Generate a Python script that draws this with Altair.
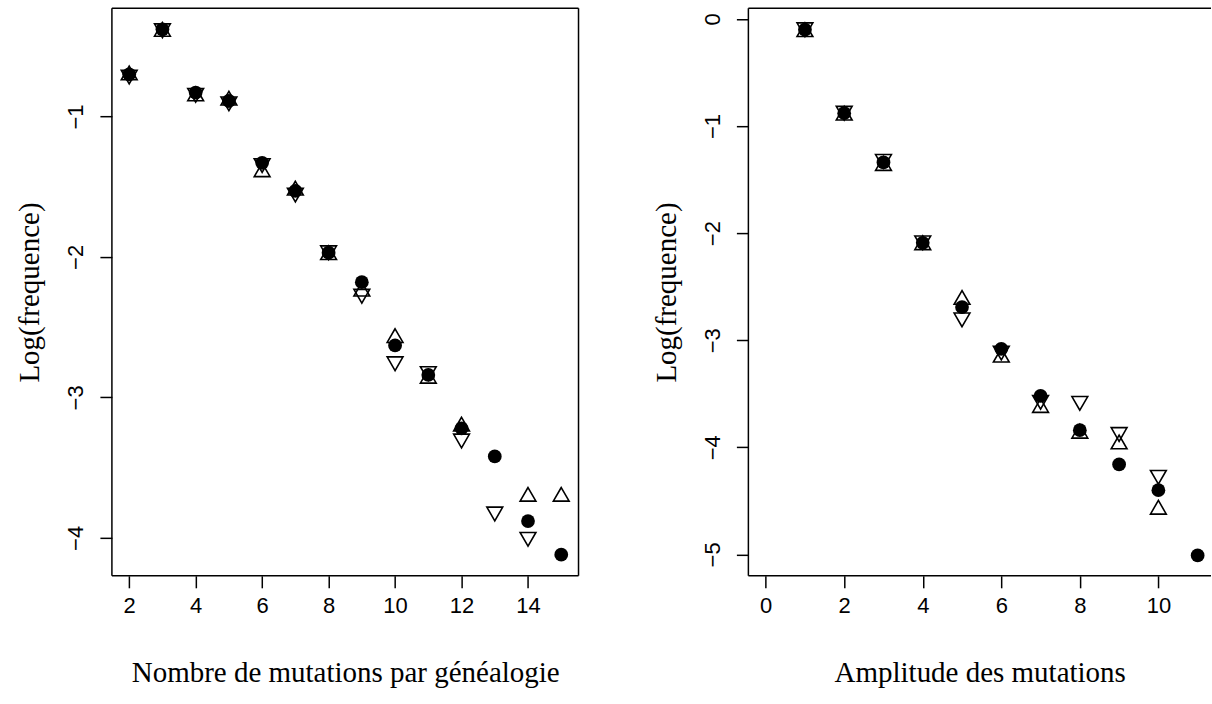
import altair as alt
import pandas as pd

# ---------------- data ----------------
# Left panel: number of mutations per genealogy
left_x = [2, 3, 4, 5, 6, 7, 8, 9, 10, 11, 12, 13, 14, 15]
left_circle = [-0.70, -0.38, -0.83, -0.89, -1.33, -1.53, -1.97, -2.18, -2.63, -2.84, -3.22, -3.42, -3.88, -4.12]
left_up = [-0.69, -0.38, -0.84, -0.87, -1.38, -1.51, -1.97, -2.23, -2.56, -2.85, -3.19, None, -3.69, -3.69]
left_down = [-0.72, -0.39, -0.85, -0.91, -1.35, -1.56, -1.97, -2.28, -2.76, -2.83, -3.31, -3.83, -4.01, None]
left_xticks = [2, 4, 6, 8, 10, 12, 14]
left_yticks = [-1, -2, -3, -4]

# Right panel: amplitude of mutations
right_x = [1, 2, 3, 4, 5, 6, 7, 8, 9, 10, 11]
right_circle = [-0.10, -0.88, -1.34, -2.09, -2.69, -3.08, -3.52, -3.84, -4.16, -4.40, -5.01]
right_up = [-0.10, -0.88, -1.35, -2.09, -2.60, -3.14, -3.61, -3.85, -3.95, -4.56, None]
right_down = [-0.10, -0.88, -1.33, -2.09, -2.81, -3.12, -3.58, -3.59, -3.88, -4.28, None]
right_xticks = [0, 2, 4, 6, 8, 10]
right_yticks = [0, -1, -2, -3, -4, -5]

X_TITLE_LEFT = "Nombre de mutations par généalogie"
X_TITLE_RIGHT = "Amplitude des mutations"
Y_TITLE = "Log(frequence)"

W_LEFT, W_RIGHT, H = 467, 463, 568
TICK_FONT = "Liberation Sans"
TITLE_FONT = "Liberation Serif"


def frame(xs, ys):
    d = pd.DataFrame({"x": xs, "y": ys})
    return d.dropna()


def panel(xs, circ, up, down, xdom, ydom, xticks, yticks, xtitle, width, left_side_only):
    xscale = alt.Scale(domain=xdom, nice=False, zero=False)
    yscale = alt.Scale(domain=ydom, nice=False, zero=False)
    xaxis = alt.Axis(values=xticks, title=xtitle, titleY=97, titleX=width / 2,
                     titleBaseline="middle", titleAlign="center", labelPadding=8)
    yaxis = alt.Axis(values=yticks, title=Y_TITLE, titleX=-82, titleY=H / 2,
                     titleAngle=270, titleBaseline="middle", titleAlign="center",
                     labelAngle=270, labelAlign="center", labelBaseline="middle",
                     labelPadding=24)
    base_enc = dict(
        x=alt.X("x:Q", scale=xscale, axis=xaxis),
        y=alt.Y("y:Q", scale=yscale, axis=yaxis),
    )
    circles = alt.Chart(frame(xs, circ)).mark_point(
        shape="circle", filled=True, size=190, color="black", opacity=1
    ).encode(**base_enc)
    ups = alt.Chart(frame(xs, up)).mark_point(
        shape="triangle-up", filled=False, size=250, color="black", strokeWidth=1.6, opacity=1
    ).encode(**base_enc)
    downs = alt.Chart(frame(xs, down)).mark_point(
        shape="triangle-down", filled=False, size=250, color="black", strokeWidth=1.6, opacity=1
    ).encode(**base_enc)

    one = pd.DataFrame({"k": [0]})
    rule = dict(color="black", strokeWidth=1.5)
    top = alt.Chart(one).mark_rule(**rule).encode(
        x=alt.value(0), x2=alt.value(width), y=alt.value(0))
    bottom = alt.Chart(one).mark_rule(**rule).encode(
        x=alt.value(0), x2=alt.value(width), y=alt.value(H))
    left = alt.Chart(one).mark_rule(**rule).encode(
        x=alt.value(0), y=alt.value(0), y2=alt.value(H))
    layers = [circles, ups, downs, top, bottom, left]
    if not left_side_only:
        right = alt.Chart(one).mark_rule(**rule).encode(
            x=alt.value(width), y=alt.value(0), y2=alt.value(H))
        layers.append(right)
    return alt.layer(*layers).properties(width=width, height=H)


left_chart = panel(left_x, left_circle, left_up, left_down,
                   [1.48, 15.52], [-4.27, -0.23], left_xticks, left_yticks,
                   X_TITLE_LEFT, W_LEFT, False)
right_chart = panel(right_x, right_circle, right_up, right_down,
                    [-0.44, 11.34], [-5.20, 0.10], right_xticks, right_yticks,
                    X_TITLE_RIGHT, W_RIGHT, True)

chart = alt.hconcat(left_chart, right_chart, spacing=73).properties(
    padding={"left": 16, "top": 7, "right": 0, "bottom": 0},
    background="white",
).configure_view(stroke=None).configure_axis(
    grid=False,
    domain=False,
    ticks=True,
    tickColor="black",
    tickWidth=1.5,
    tickSize=12,
    labelFont=TICK_FONT,
    labelFontSize=22,
    labelColor="black",
    titleFont=TITLE_FONT,
    titleFontSize=29,
    titleFontWeight="normal",
    titleColor="black",
    labelFlush=False,
    labelOverlap=False,
)

chart.save("out.html", embed_options={"renderer": "svg", "actions": False})
